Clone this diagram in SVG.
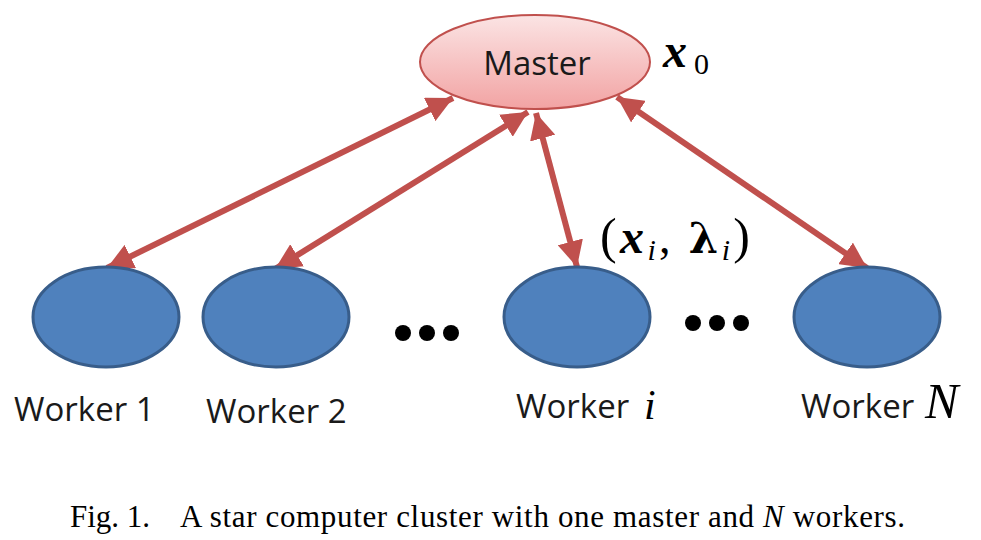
<svg xmlns="http://www.w3.org/2000/svg" width="981" height="540" viewBox="0 0 981 540">
<defs>
<linearGradient id="mg" x1="0" y1="0" x2="0" y2="1">
<stop offset="0" stop-color="#fbe4e4"/>
<stop offset="1" stop-color="#f2a3a3"/>
</linearGradient>
<marker id="ah" markerUnits="userSpaceOnUse" markerWidth="28" markerHeight="26" refX="26" refY="13" orient="auto-start-reverse" viewBox="0 0 28 26">
<path d="M0,0 L26,13 L0,26 Z" fill="#c0504d"/>
</marker>
</defs>
<style>
.worker{fill:#4f81bd;stroke:#385d8a;stroke-width:3}
.lbl{font-family:"Open Sans","Liberation Sans",sans-serif;font-size:33px;fill:#1a1a1a}
.math{font-family:"Liberation Serif","DejaVu Serif",serif;fill:#000}
.conn{stroke:#c0504d;stroke-width:6;fill:none;marker-start:url(#ah);marker-end:url(#ah)}
</style>
<g id="connectors">
<line class="conn" x1="453" y1="98" x2="107" y2="268"/>
<line class="conn" x1="528" y1="112" x2="275" y2="269"/>
<line class="conn" x1="536" y1="113" x2="577" y2="267"/>
<line class="conn" x1="617" y1="97" x2="867" y2="268"/>
</g>
<g id="master">
<ellipse cx="535" cy="62" rx="115" ry="47" fill="url(#mg)" stroke="#c0504d" stroke-width="2"/>
<text class="lbl" x="537" y="75" text-anchor="middle">Master</text>
</g>
<g id="x0">
<text class="math" x="663" y="67" font-size="48" font-style="italic" font-weight="bold">x</text>
<text class="math" x="694" y="74" font-size="30">0</text>
</g>
<g id="worker1">
<ellipse class="worker" cx="106" cy="317" rx="73" ry="50"/>
<text class="lbl" x="14" y="421">Worker 1</text>
</g>
<g id="worker2">
<ellipse class="worker" cx="276" cy="317" rx="73" ry="50"/>
<text class="lbl" x="206" y="423">Worker 2</text>
</g>
<g id="workeri">
<ellipse class="worker" cx="577" cy="317" rx="73" ry="50"/>
<text class="lbl" x="516" y="418">Worker</text>
<text class="math" x="644" y="419" font-size="42" font-style="italic">i</text>
</g>
<g id="workerN">
<ellipse class="worker" cx="867" cy="317" rx="73" ry="50"/>
<text class="lbl" x="801" y="418">Worker</text>
<text class="math" x="925" y="418" font-size="50" font-style="italic">N</text>
</g>
<g id="dots1" fill="#000">
<circle cx="403" cy="333" r="8"/>
<circle cx="427" cy="333" r="8"/>
<circle cx="451" cy="333" r="8"/>
</g>
<g id="dots2" fill="#000">
<circle cx="693" cy="323" r="8"/>
<circle cx="717" cy="323" r="8"/>
<circle cx="741" cy="323" r="8"/>
</g>
<g id="xilabel">
<text class="math" x="600" y="253" font-size="50" xml:space="preserve" textLength="150" lengthAdjust="spacing">(<tspan font-style="italic" font-weight="bold" font-size="48">x</tspan><tspan font-style="italic" font-size="30" dy="7">i</tspan><tspan dy="-7" font-size="46">, </tspan><tspan font-weight="bold" font-family="DejaVu Serif,serif" font-size="42">λ</tspan><tspan font-style="italic" font-size="30" dy="7">i</tspan><tspan dy="-7">)</tspan></text>
</g>
<g id="caption">
<text class="math" x="70" y="527" font-size="31">Fig. 1.</text>
<text class="math" x="180" y="527" font-size="31" textLength="725" lengthAdjust="spacing">A star computer cluster with one master and <tspan font-style="italic">N</tspan> workers.</text>
</g>
</svg>
